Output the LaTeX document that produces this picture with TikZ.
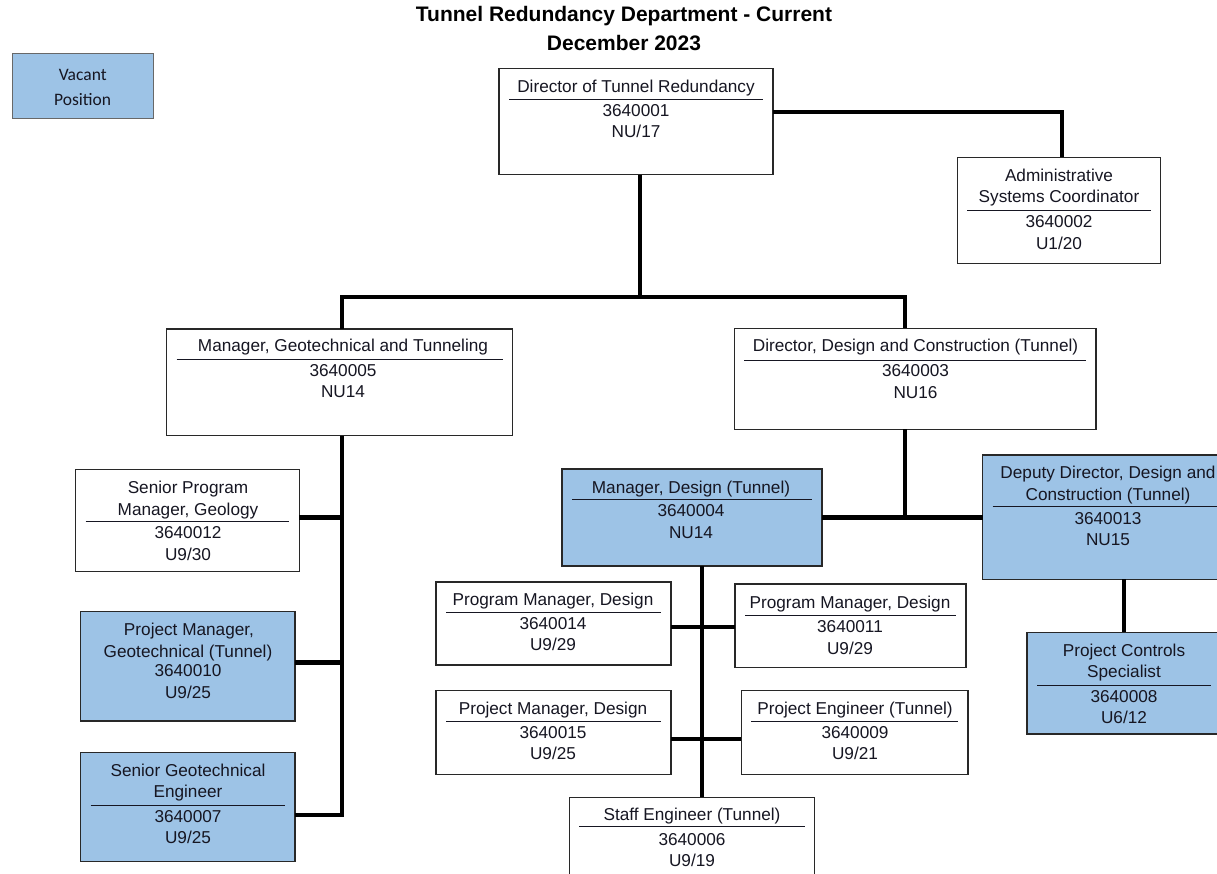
\documentclass[tikz,border=0pt]{standalone}
\usepackage{fontspec}
\setmainfont{Liberation Sans}
\newfontfamily\calib{Carlito}
\usetikzlibrary{calc}
\definecolor{bluefill}{RGB}{157,195,230}
\definecolor{bordc}{RGB}{40,40,40}
\definecolor{txtc}{RGB}{22,22,34}
\newcommand\txtline[4]{\node[txt] (#1) at (#2,#3) {#4};}
\newcommand\sepline[2]{\draw[sepl] ($(#1.west |- 0,#2)+(10,0)$) -- ($(#1.east |- 0,#2)+(-10,0)$);}
\tikzset{
  box/.style={draw=bordc, line width=1.1pt, anchor=north west, inner sep=0pt, outer sep=0pt, fill=white},
  vbox/.style={box, fill=bluefill},
  txt/.style={anchor=base, inner sep=0pt, text=txtc, font=\fontsize{17.2}{21}\selectfont},
  ttl/.style={anchor=base, inner sep=0pt, text=black, font=\fontsize{21}{25}\selectfont\bfseries},
  sepl/.style={draw=txtc, line width=1pt},
  conn/.style={draw=black, line width=4.5pt}
}
\begin{document}
\begin{tikzpicture}[x=1pt,y=-1pt]
\useasboundingbox (0,0) rectangle (1217,873);
\clip (0,0) rectangle (1217,873);
\fill[white] (0,0) rectangle (1217,873);

% title
\node[ttl] (title1) at (624,21.7) {Tunnel Redundancy Department - Current};
\node[ttl] (title2) at (624,50) {December 2023};

% legend
\node[vbox, line width=0.8pt, draw=bordc!70, minimum width=140.5pt, minimum height=65pt] (vac) at (12.5,53.3) {};
\node[anchor=base, inner sep=0pt, text=txtc, font=\calib\fontsize{17.5}{21}\selectfont] (vac-1) at (82.7,80) {Vacant};
\node[anchor=base, inner sep=0pt, text=txtc, font=\calib\fontsize{17.5}{21}\selectfont] (vac-2) at (82.7,105) {Position};

% boxes
\node[box, minimum width=274pt, minimum height=106pt] (dir) at (499,68.5) {};
\node[box, minimum width=203.4pt, minimum height=106pt] (adm) at (957.3,157.3) {};
\node[box, minimum width=346pt, minimum height=106.7pt] (mgeo) at (166.7,329) {};
\node[box, minimum width=361.7pt, minimum height=101pt] (ddc) at (734.3,328.3) {};
\node[box, minimum width=223.6pt, minimum height=102.4pt] (spg) at (75.7,469.3) {};
\node[vbox, minimum width=214.3pt, minimum height=109.3pt] (pmg) at (80.7,611.7) {};
\node[vbox, minimum width=214.3pt, minimum height=109pt] (sge) at (80.7,752.7) {};
\node[vbox, minimum width=260pt, minimum height=97pt] (mdes) at (562,469) {};
\node[vbox, minimum width=250pt, minimum height=124.3pt] (dep) at (982.7,455) {};
\node[vbox, minimum width=194pt, minimum height=101.7pt] (pcs) at (1027,632.3) {};
\node[box, minimum width=235pt, minimum height=83pt] (pml) at (436,582) {};
\node[box, minimum width=231pt, minimum height=83.3pt] (pmr) at (735,584) {};
\node[box, minimum width=235pt, minimum height=84pt] (pjm) at (436,690.7) {};
\node[box, minimum width=226.6pt, minimum height=84pt] (pje) at (741.4,690.7) {};
\node[box, minimum width=245.3pt, minimum height=100pt] (ses) at (569.3,797.3) {};

% texts
\txtline{dir-1}{636}{92.3}{Director of Tunnel Redundancy}
\sepline{dir}{99}
\txtline{dir-2}{636}{116.7}{3640001}
\txtline{dir-3}{636}{137.3}{NU/17}

\txtline{adm-1}{1059}{181.7}{Administrative}
\txtline{adm-2}{1059}{202.3}{Systems Coordinator}
\sepline{adm}{210.7}
\txtline{adm-3}{1059}{227.3}{3640002}
\txtline{adm-4}{1059}{249}{U1/20}

\txtline{mgeo-1}{343}{351.7}{Manager, Geotechnical and Tunneling}
\sepline{mgeo}{359}
\txtline{mgeo-2}{343}{376.7}{3640005}
\txtline{mgeo-3}{343}{397.7}{NU14}

\txtline{ddc-1}{915.5}{351.7}{Director, Design and Construction (Tunnel)}
\sepline{ddc}{360}
\txtline{ddc-2}{915.5}{376.7}{3640003}
\txtline{ddc-3}{915.5}{398}{NU16}

\txtline{spg-1}{188}{493.3}{Senior Program}
\txtline{spg-2}{188}{515}{Manager, Geology}
\sepline{spg}{521.7}
\txtline{spg-3}{188}{538.3}{3640012}
\txtline{spg-4}{188}{560}{U9/30}

\txtline{pmg-1}{189}{635}{Project Manager,}
\txtline{pmg-2}{188}{657}{Geotechnical (Tunnel)}
\txtline{pmg-3}{188}{676.3}{3640010}
\txtline{pmg-4}{188}{698.7}{U9/25}

\txtline{sge-1}{188}{776}{Senior Geotechnical}
\txtline{sge-2}{188}{797.5}{Engineer}
\sepline{sge}{805}
\txtline{sge-3}{188}{822.7}{3640007}
\txtline{sge-4}{188}{843}{U9/25}

\txtline{mdes-1}{691}{493.3}{Manager, Design (Tunnel)}
\sepline{mdes}{499.5}
\txtline{mdes-2}{691}{516.7}{3640004}
\txtline{mdes-3}{691}{538}{NU14}

\txtline{dep-1}{1108}{478}{Deputy Director, Design and}
\txtline{dep-2}{1108}{500}{Construction (Tunnel)}
\sepline{dep}{506.7}
\txtline{dep-3}{1108}{524}{3640013}
\txtline{dep-4}{1108}{545}{NU15}

\txtline{pcs-1}{1124}{656.7}{Project Controls}
\txtline{pcs-2}{1124}{677}{Specialist}
\sepline{pcs}{685}
\txtline{pcs-3}{1124}{702}{3640008}
\txtline{pcs-4}{1124}{723}{U6/12}

\txtline{pml-1}{553}{605}{Program Manager, Design}
\sepline{pml}{612.7}
\txtline{pml-2}{553}{629.3}{3640014}
\txtline{pml-3}{553}{650.7}{U9/29}

\txtline{pmr-1}{850}{608}{Program Manager, Design}
\sepline{pmr}{615}
\txtline{pmr-2}{850}{632.7}{3640011}
\txtline{pmr-3}{850}{654}{U9/29}

\txtline{pjm-1}{553}{714}{Project Manager, Design}
\sepline{pjm}{721.3}
\txtline{pjm-2}{553}{738.3}{3640015}
\txtline{pjm-3}{553}{759.3}{U9/25}

\txtline{pje-1}{855}{714}{Project Engineer (Tunnel)}
\sepline{pje}{721.3}
\txtline{pje-2}{855}{738.3}{3640009}
\txtline{pje-3}{855}{759.3}{U9/21}

\txtline{ses-1}{692}{820.7}{Staff Engineer (Tunnel)}
\sepline{ses}{826.7}
\txtline{ses-2}{692}{845}{3640006}
\txtline{ses-3}{692}{866}{U9/19}

% junction coordinates
\coordinate (jt) at (640,297);
\coordinate (gv) at (342,0);
\coordinate (dv) at (702,0);
\coordinate (r1) at (702,627);
\coordinate (r2) at (702,739);
\coordinate (av) at (1062,112);
\coordinate (dj) at (905,517.5);

% connectors
\draw[conn] (dir.east |- av) -| (adm.north -| av);
\draw[conn] (dir.south -| jt) -- (jt);
\draw[conn] (mgeo.north -| gv) |- (jt) -| (ddc.north -| dj);
\draw[conn] (mgeo.south -| gv) |- ($(sge.east)+(0,8)$);
\draw[conn] ($(spg.east)+(0,-3)$) -- ($(spg.east -| gv)+(0,-3)$);
\draw[conn] ($(pmg.east)+(0,-4)$) -- ($(pmg.east -| gv)+(0,-4)$);
\draw[conn] (mdes.east |- dj) -- (dep.west |- dj);
\draw[conn] (ddc.south -| dj) -- (dj);
\draw[conn] (pcs.north |- dep.south) -- (pcs.north);
\draw[conn] (mdes.south -| dv) -- (ses.north -| dv);
\draw[conn] (pml.east |- r1) -- (pmr.west |- r1);
\draw[conn] (pjm.east |- r2) -- (pje.west |- r2);
\end{tikzpicture}
\end{document}
